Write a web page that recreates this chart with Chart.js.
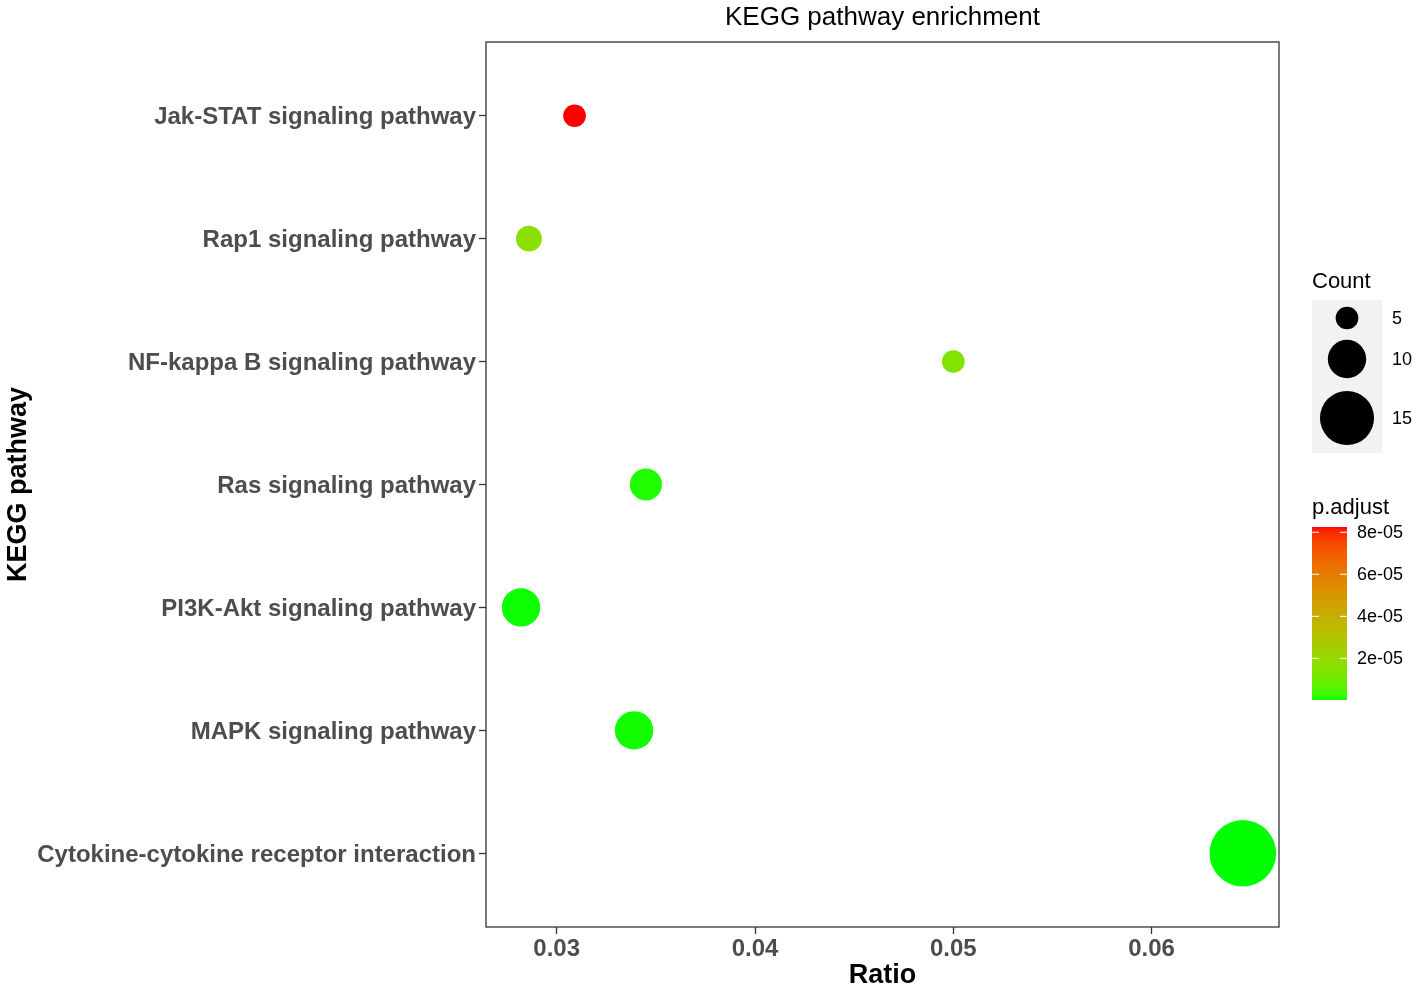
<!DOCTYPE html>
<html>
<head>
<meta charset="utf-8">
<script src="https://cdn.jsdelivr.net/npm/chart.js@4.4.1/dist/chart.umd.min.js"></script>
<style>
  html, body { margin: 0; padding: 0; background: #fff; }
</style>
</head>
<body>
<canvas id="myChart" width="1418" height="992"></canvas>
<script>
// DATA, pathways listed top to bottom
const pathways = [
    "Jak-STAT signaling pathway",
    "Rap1 signaling pathway",
    "NF-kappa B signaling pathway",
    "Ras signaling pathway",
    "PI3K-Akt signaling pathway",
    "MAPK signaling pathway",
    "Cytokine-cytokine receptor interaction",
];
const ratios = [0.0309, 0.0286, 0.0500, 0.0345, 0.0282, 0.0339, 0.0646];
const counts = [5, 6, 5, 8, 10, 10, 19];
const pAdjust = [8.25e-5, 1.7e-5, 1.42e-5, 1.1e-6, 4e-7, 6e-7, 2e-7];
const xTicks = [0.03, 0.04, 0.05, 0.06];
const countBreaks = [5, 10, 15];
const pBreaks = [2e-5, 4e-5, 6e-5, 8e-5];

const pMin = Math.min(...pAdjust);
const pMax = Math.max(...pAdjust);

// bubble radius in px for a gene count
function sizeFor(c) {
    return 11.35 + 1.57 * (c - 5);
}

// green -> red gradient, mixed in Lab like ggplot does
function toLab(hex) {
    const lin = [1, 3, 5].map(i => parseInt(hex.substr(i, 2), 16) / 255)
        .map(v => v <= 0.04045 ? v / 12.92 : Math.pow((v + 0.055) / 1.055, 2.4));
    const X = (0.4124 * lin[0] + 0.3576 * lin[1] + 0.1805 * lin[2]) / 0.95047;
    const Y = 0.2126 * lin[0] + 0.7152 * lin[1] + 0.0722 * lin[2];
    const Z = (0.0193 * lin[0] + 0.1192 * lin[1] + 0.9505 * lin[2]) / 1.08883;
    const f = t => t > 0.008856 ? Math.cbrt(t) : 7.787 * t + 16 / 116;
    return [116 * f(Y) - 16, 500 * (f(X) - f(Y)), 200 * (f(Y) - f(Z))];
}
function fromLab(L, a, b) {
    const fy = (L + 16) / 116, fx = fy + a / 500, fz = fy - b / 200;
    const inv = t => t * t * t > 0.008856 ? t * t * t : (t - 16 / 116) / 7.787;
    const X = inv(fx) * 0.95047, Y = inv(fy), Z = inv(fz) * 1.08883;
    const rgb = [
        3.2406 * X - 1.5372 * Y - 0.4986 * Z,
        -0.9689 * X + 1.8758 * Y + 0.0415 * Z,
        0.0557 * X - 0.2040 * Y + 1.0570 * Z,
    ].map(v => {
        v = Math.min(1, Math.max(0, v));
        v = v <= 0.0031308 ? 12.92 * v : 1.055 * Math.pow(v, 1 / 2.4) - 0.055;
        return Math.round(v * 255);
    });
    return "rgb(" + rgb.join(",") + ")";
}
const lowLab = toLab("#00FF00");
const highLab = toLab("#FF0000");
function colorFor(p) {
    const t = Math.min(1, Math.max(0, (p - pMin) / (pMax - pMin)));
    return fromLab(
        lowLab[0] + (highLab[0] - lowLab[0]) * t,
        lowLab[1] + (highLab[1] - lowLab[1]) * t,
        lowLab[2] + (highLab[2] - lowLab[2]) * t
    );
}
function fmtExp(v) {
    const parts = v.toExponential().split("e");
    const e = parseInt(parts[1], 10);
    return parts[0] + "e" + (e < 0 ? "-" : "+") + String(Math.abs(e)).padStart(2, "0");
}

const FONT = "'Liberation Sans', Arial, sans-serif";
Chart.defaults.font.family = FONT;

// border, title and the two legends
const decor = {
    id: "decor",
    afterDraw(chart) {
        const ctx = chart.ctx;
        const a = chart.chartArea;
        ctx.save();
        ctx.strokeStyle = "#333333";
        ctx.lineWidth = 1.3;
        ctx.strokeRect(a.left, a.top, a.right - a.left, a.bottom - a.top);

        ctx.fillStyle = "#000";
        ctx.textBaseline = "middle";
        ctx.textAlign = "center";
        ctx.font = "26px " + FONT;
        ctx.fillText("KEGG pathway enrichment", (a.left + a.right) / 2, 18);

        // Count legend
        ctx.textAlign = "left";
        ctx.font = "22px " + FONT;
        ctx.fillText("Count", 1312, 282);
        ctx.fillStyle = "#F2F2F2";
        ctx.fillRect(1312, 300, 70, 153);
        const keyY = [318, 359, 418];
        ctx.font = "18px " + FONT;
        countBreaks.forEach((c, i) => {
            ctx.fillStyle = "#000";
            ctx.beginPath();
            ctx.arc(1347, keyY[i], sizeFor(c), 0, Math.PI * 2);
            ctx.fill();
            ctx.fillText(String(c), 1392, keyY[i] + 1);
        });

        // p.adjust colour bar
        ctx.font = "22px " + FONT;
        ctx.fillText("p.adjust", 1312, 508);
        const barTop = 527, barBottom = 700, barL = 1312, barR = 1347;
        for (let y = barTop; y < barBottom; y++) {
            const p = pMin + (barBottom - y - 0.5) / (barBottom - barTop) * (pMax - pMin);
            ctx.fillStyle = colorFor(p);
            ctx.fillRect(barL, y, barR - barL, 1);
        }
        ctx.font = "18px " + FONT;
        pBreaks.forEach(v => {
            const y = barBottom - (v - pMin) / (pMax - pMin) * (barBottom - barTop);
            ctx.strokeStyle = "#fff";
            ctx.lineWidth = 1;
            ctx.beginPath();
            ctx.moveTo(barL, y); ctx.lineTo(barL + 7, y);
            ctx.moveTo(barR - 7, y); ctx.lineTo(barR, y);
            ctx.stroke();
            ctx.fillStyle = "#000";
            ctx.fillText(fmtExp(v), 1357, y + 1);
        });
        ctx.restore();
    },
};

const ctx1 = document.getElementById("myChart").getContext("2d");
const myChart = new Chart(ctx1, {
    type: "bubble",
    data: {
        datasets: [
            {
                label: "KEGG",
                data: pathways.map((name, i) => ({ x: ratios[i], y: i + 1, r: sizeFor(counts[i]) })),
                backgroundColor: c => colorFor(pAdjust[c.dataIndex]),
                borderWidth: 0,
                hoverBorderWidth: 0,
            },
        ],
    },
    options: {
        responsive: false,
        devicePixelRatio: 1,
        animation: false,
        layout: { padding: { left: 0, top: 42, right: 139, bottom: 0 } },
        plugins: { legend: { display: false }, tooltip: { enabled: false } },
        scales: {
            x: {
                type: "linear",
                min: 0.026435,
                max: 0.066424,
                afterBuildTicks: s => { s.ticks = xTicks.map(v => ({ value: v })); },
                afterFit: s => { s.height = 65; },
                border: { display: false },
                grid: { color: "#ffffff", tickColor: "#333333", tickLength: 7, tickWidth: 1.3 },
                ticks: {
                    autoSkip: false,
                    maxRotation: 0,
                    padding: 1,
                    color: "#4D4D4D",
                    font: { size: 24, weight: "bold" },
                    callback: v => v.toFixed(2),
                },
                title: {
                    display: true,
                    text: "Ratio",
                    color: "#000",
                    font: { size: 27, weight: "bold" },
                    padding: { top: 0, bottom: 0 },
                },
            },
            y: {
                type: "linear",
                min: 0.4,
                max: 7.6,
                reverse: true,
                afterBuildTicks: s => { s.ticks = pathways.map((n, i) => ({ value: i + 1 })); },
                afterFit: s => { s.width = 486; },
                border: { display: false },
                grid: { color: "#ffffff", tickColor: "#333333", tickLength: 7, tickWidth: 1.3 },
                ticks: {
                    autoSkip: false,
                    padding: 3,
                    labelOffset: 2,
                    color: "#4D4D4D",
                    font: { size: 24, weight: "bold" },
                    callback: v => pathways[v - 1],
                },
                title: {
                    display: true,
                    text: "KEGG pathway",
                    color: "#000",
                    font: { size: 27, weight: "bold" },
                    padding: { top: 2, bottom: 0 },
                },
            },
        },
    },
    plugins: [decor],
});
</script>
</body>
</html>
